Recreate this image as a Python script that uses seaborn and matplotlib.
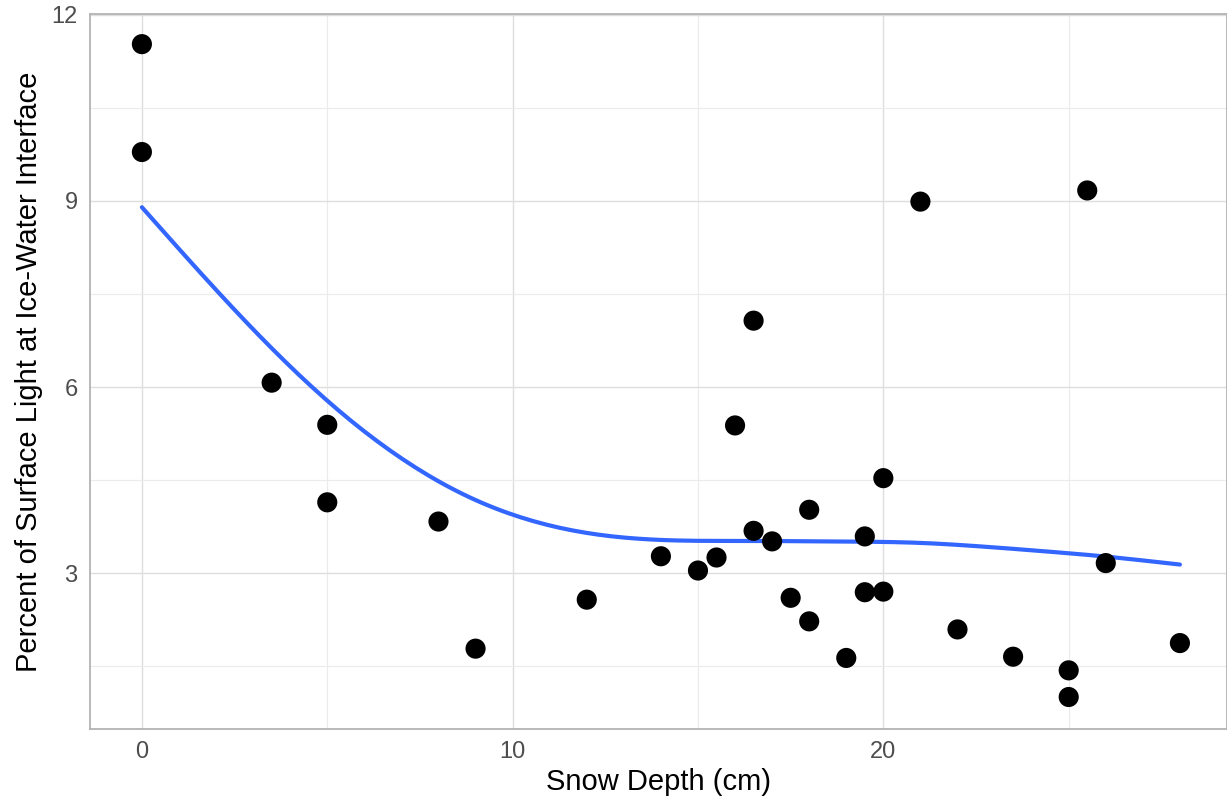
import numpy as np
import pandas as pd
import matplotlib
matplotlib.use("Agg")
import matplotlib.pyplot as plt
import seaborn as sns

snow_depth = [0, 0, 3.5, 5, 5, 8, 9, 12, 14, 15, 15.5, 16, 16.5, 16.5, 17, 17.5,
              18, 18, 19, 19.5, 19.5, 20, 20, 21, 22, 23.5, 25, 25, 25.5, 26, 28]
light_pct = [11.53, 9.79, 6.07, 5.39, 4.14, 3.83, 1.78, 2.57, 3.27, 3.04, 3.25, 5.38,
             7.07, 3.68, 3.51, 2.60, 4.02, 2.22, 1.63, 3.59, 2.69, 4.53, 2.70, 8.99,
             2.09, 1.65, 1.43, 1.00, 9.17, 3.16, 1.87]

x_ticks = [0, 10, 20]
y_ticks = [3, 6, 9, 12]

df = pd.DataFrame({"x": snow_depth, "y": light_pct})


def smoothing_spline(x, y, grid, lam):
    """Penalised cubic smoothing spline (natural boundary), Reinsch form."""
    x = np.asarray(x, float)
    y = np.asarray(y, float)
    u = np.unique(x)
    m = len(u)
    w = np.array([np.sum(x == v) for v in u], float)
    yb = np.array([y[x == v].mean() for v in u])
    h = np.diff(u)
    Q = np.zeros((m, m - 2))
    R = np.zeros((m - 2, m - 2))
    for j in range(1, m - 1):
        Q[j - 1, j - 1] = 1 / h[j - 1]
        Q[j, j - 1] = -1 / h[j - 1] - 1 / h[j]
        Q[j + 1, j - 1] = 1 / h[j]
        R[j - 1, j - 1] = (h[j - 1] + h[j]) / 3
        if j < m - 2:
            R[j - 1, j] = h[j] / 6
            R[j, j - 1] = h[j] / 6
    K = Q @ np.linalg.solve(R, Q.T)
    Wm = np.diag(w)
    g = np.linalg.solve(Wm + lam * K, Wm @ yb)
    gam = np.concatenate([[0], np.linalg.solve(R, Q.T @ g), [0]])
    out = []
    for t in grid:
        i = int(np.clip(np.searchsorted(u, t, side="right") - 1, 0, m - 2))
        hi = h[i]
        a = t - u[i]
        b = u[i + 1] - t
        f = (a * g[i + 1] + b * g[i]) / hi - a * b / 6 * (
            (1 + a / hi) * gam[i + 1] + (1 + b / hi) * gam[i])
        out.append(f)
    return np.array(out)


grid = np.linspace(min(snow_depth), max(snow_depth), 160)
smooth = pd.DataFrame({"x": grid, "y": smoothing_spline(snow_depth, light_pct, grid, 290)})

sns.set_style("white")
plt.rcParams["font.family"] = ["Liberation Sans", "DejaVu Sans"]

W, H = 1227, 799
fig = plt.figure(figsize=(W / 100, H / 100), dpi=100)
left, right, top, bottom = 90, 1227, 14, 729
ax = fig.add_axes([left / W, 1 - bottom / H, (right - left) / W, (bottom - top) / H])

ax.set_xlim(-1.4, 29.27)
ax.set_ylim(0.484, 12.016)

ax.set_xticks(x_ticks)
ax.set_xticks([5, 15, 25], minor=True)
ax.set_yticks(y_ticks)
ax.set_yticks([1.5, 4.5, 7.5, 10.5], minor=True)
ax.grid(which="major", color="#DEDEDE", linewidth=1.0)
ax.grid(which="minor", color="#EBEBEB", linewidth=0.8)
ax.set_axisbelow(True)

sns.lineplot(data=smooth, x="x", y="y", ax=ax, color="#3366FF", linewidth=3.0, zorder=2)
sns.scatterplot(data=df, x="x", y="y", ax=ax, color="black", s=210, edgecolor="none", zorder=3)

for sp in ax.spines.values():
    sp.set_color("#B3B3B3")
    sp.set_linewidth(1.3)

ax.tick_params(which="major", length=4.5, width=1.1, color="#B3B3B3",
               labelsize=17, labelcolor="#4D4D4D", pad=4.5)
ax.tick_params(which="minor", length=0)

ax.set_xlabel("Snow Depth (cm)", fontsize=21, color="black", labelpad=3)
ax.set_ylabel("Percent of Surface Light at Ice-Water Interface", fontsize=21,
              color="black", labelpad=6)

fig.savefig("out.png", dpi=100)
